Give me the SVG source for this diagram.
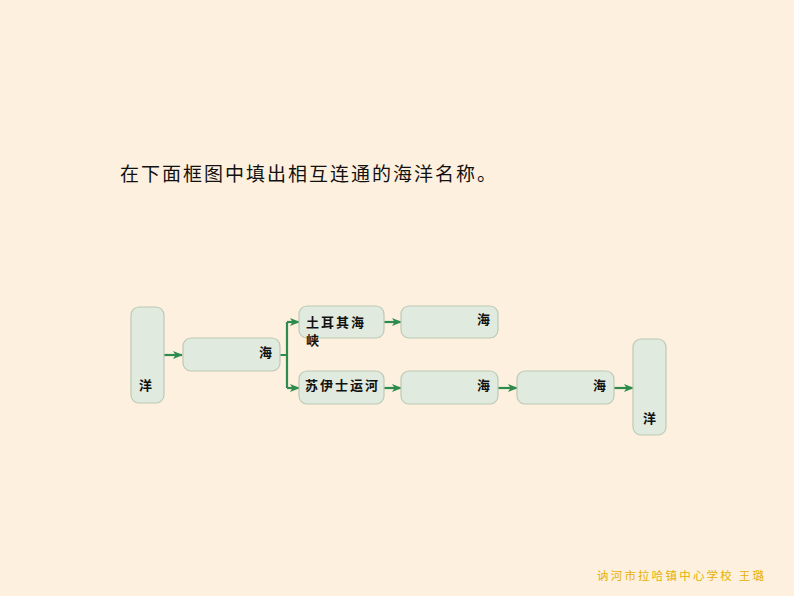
<svg xmlns="http://www.w3.org/2000/svg" width="794" height="596" viewBox="0 0 794 596">
<style>
.box{fill:#e1eadf;stroke:#bccab4;stroke-width:1.2}
.lbl{font-family:"Noto Sans CJK SC",sans-serif;font-size:13px;font-weight:bold;fill:#111;letter-spacing:2px}
.ln{fill:none;stroke:#2e8b4e;stroke-width:2.2}
</style>
<defs>
<marker id="ah" markerWidth="10" markerHeight="10" refX="9" refY="5" orient="auto" markerUnits="userSpaceOnUse">
<path d="M0,1 L10,5 L0,9 L2.5,5 Z" fill="#2e8b4e"/>
</marker>
</defs>
<rect width="794" height="596" fill="#fdf0de"/>
<text x="120" y="181" font-family="Noto Sans CJK SC,sans-serif" font-size="19" letter-spacing="2" fill="#111">在下面框图中填出相互连通的海洋名称。</text>
<g id="connectors">
<path class="ln" d="M164,355 H182" marker-end="url(#ah)"/>
<path class="ln" d="M280,355 H287 M287,322 V388"/>
<path class="ln" d="M287,322 H299" marker-end="url(#ah)"/>
<path class="ln" d="M287,388 H299" marker-end="url(#ah)"/>
<path class="ln" d="M384,322 H401" marker-end="url(#ah)"/>
<path class="ln" d="M384,388 H401" marker-end="url(#ah)"/>
<path class="ln" d="M498,388 H517" marker-end="url(#ah)"/>
<path class="ln" d="M614,388 H633" marker-end="url(#ah)"/>
</g>
<g id="n1"><rect class="box" x="131" y="307" width="33" height="96" rx="8"/><text class="lbl" x="139" y="390">洋</text></g>
<g id="n2"><rect class="box" x="183" y="338" width="97" height="33" rx="8"/><text class="lbl" x="259" y="357">海</text></g>
<g id="n3"><rect class="box" x="299" y="306" width="85" height="32" rx="8"/><text class="lbl" x="306" y="327">土耳其海</text><text class="lbl" x="306" y="345">峡</text></g>
<g id="n4"><rect class="box" x="401" y="306" width="97" height="32" rx="8"/><text class="lbl" x="477" y="324">海</text></g>
<g id="n5"><rect class="box" x="299" y="371" width="85" height="33" rx="8"/><text class="lbl" x="305" y="390" letter-spacing="1.6">苏伊士运河</text></g>
<g id="n6"><rect class="box" x="401" y="371" width="97" height="33" rx="8"/><text class="lbl" x="477" y="390">海</text></g>
<g id="n7"><rect class="box" x="517" y="371" width="97" height="33" rx="8"/><text class="lbl" x="593" y="390">海</text></g>
<g id="n8"><rect class="box" x="633" y="339" width="33" height="96" rx="8"/><text class="lbl" x="643" y="423">洋</text></g>
<text x="597" y="580" font-family="Noto Sans CJK SC,sans-serif" font-size="11.5" letter-spacing="2.2" fill="#e6b100">讷河市拉哈镇中心学校 王璐</text>
</svg>
